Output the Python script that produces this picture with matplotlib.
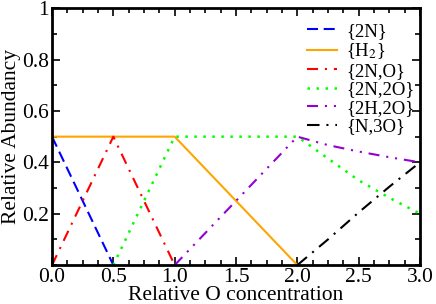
import matplotlib
matplotlib.use("Agg")
import matplotlib.pyplot as plt
from matplotlib.ticker import MultipleLocator

plt.rcParams['font.family'] = ['Liberation Serif', 'DejaVu Serif']
plt.rcParams['mathtext.fontset'] = 'stix'

# data
x_2N = [0.0, 0.5]
y_2N = [0.5, 0.0]
x_H2 = [0.0, 1.0, 2.0]
y_H2 = [0.5, 0.5, 0.0]
x_2NO = [0.0, 0.5, 1.0]
y_2NO = [0.0, 0.5, 0.0]
x_2N2O = [0.5, 1.0, 2.0, 2.25, 2.5, 2.75, 3.0]
y_2N2O = [0.0, 0.5, 0.5, 0.415, 0.33, 0.262, 0.2]
x_2H2O = [1.0, 2.0, 2.25, 2.5, 2.75, 3.0]
y_2H2O = [0.0, 0.5, 0.467, 0.442, 0.42, 0.4]
x_N3O = [2.0, 2.25, 2.5, 2.75, 3.0]
y_N3O = [0.0, 0.10, 0.205, 0.305, 0.4]

labels = ['{2N}', '{H$_2$}', '{2N,O}', '{2N,2O}', '{2H,2O}', '{N,3O}']

fig = plt.figure(figsize=(4.36, 3.04), dpi=100)
ax = fig.add_axes([0.1193, 0.128, 0.844, 0.845])

lw = 1.5
ax.plot(x_2N, y_2N, color='#0000ff', ls=(0, (5.3, 2.7)), lw=lw, label=labels[0])
ax.plot(x_H2, y_H2, color='#ffa500', ls='-', lw=lw, label=labels[1])
ax.plot(x_2NO, y_2NO, color='#ff0000', ls=(0, (5.3, 3.3, 1, 3.3)), lw=lw, label=labels[2])
ax.plot(x_2N2O, y_2N2O, color='#00ff00', ls=(0, (1, 2.6)), lw=1.8, label=labels[3])
ax.plot(x_2H2O, y_2H2O, color='#9400d3', ls=(0, (5.3, 3.3, 1, 3.3, 1, 3.3)), lw=lw, label=labels[4])
ax.plot(x_N3O, y_N3O, color='#000000', ls=(0, (6, 3.3, 1, 3.3)), lw=lw, label=labels[5])

ax.set_xlim(0, 3)
ax.set_ylim(0, 1)
ax.xaxis.set_minor_locator(MultipleLocator(0.125))
ax.yaxis.set_minor_locator(MultipleLocator(0.1))
ax.set_xticks([0, 0.5, 1.0, 1.5, 2.0, 2.5, 3.0])
ax.set_xticklabels(['0.0', '0.5', '1.0', '1.5', '2.0', '2.5', '3.0'])
ax.set_yticks([0.2, 0.4, 0.6, 0.8, 1.0])
ax.set_yticklabels(['0.2', '0.4', '0.6', '0.8', '1'])
ax.tick_params(which='both', direction='in', top=True, right=True, labelsize=15.5, width=1.2)
ax.tick_params(which='major', length=6, pad=2)
ax.tick_params(which='minor', length=3.5)
for s in ax.spines.values():
    s.set_linewidth(2)

ax.set_xlabel('Relative O concentration', fontsize=15.5, labelpad=-0.5)
ax.set_ylabel('Relative Abundancy', fontsize=15.5, labelpad=1)

leg = ax.legend(loc='upper right', bbox_to_anchor=(1.012, 0.984), frameon=False,
                fontsize=13.5, handlelength=1.6, labelspacing=0.08,
                borderaxespad=0.25, handletextpad=0.45, borderpad=0.3)

fig.savefig('out.png', dpi=100)
